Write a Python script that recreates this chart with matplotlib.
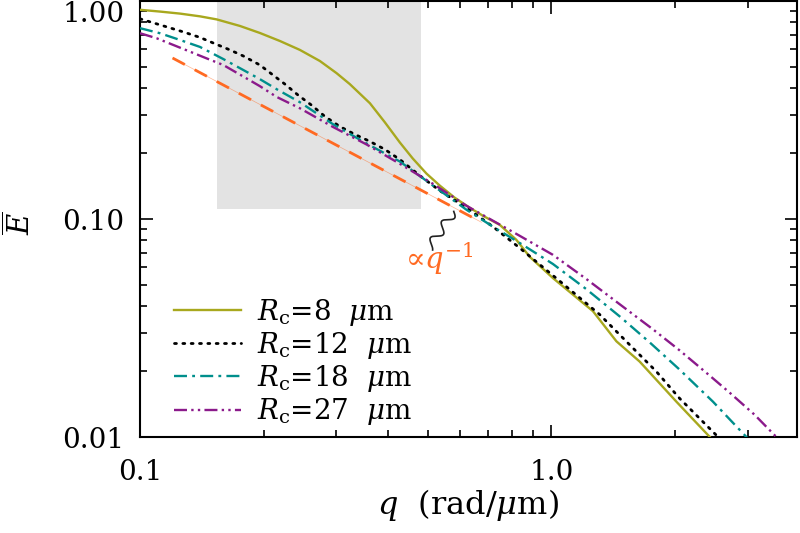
import numpy as np
import matplotlib
matplotlib.use("Agg")
import matplotlib.pyplot as plt
from matplotlib.patches import Rectangle

plt.rcParams['font.family'] = ['DejaVu Serif']
plt.rcParams['mathtext.fontset'] = 'dejavuserif'

# ---- data ----
q_r8 = [0.100, 0.1118, 0.1251, 0.1399, 0.1536, 0.1749, 0.1956, 0.2188, 0.2447, 0.2737,
        0.3005, 0.3236, 0.3621, 0.3937, 0.4281, 0.4603, 0.497, 0.5355, 0.5821, 0.6331,
        0.682, 0.749, 0.822, 0.886, 1.009, 1.262, 1.439, 1.639, 2.012, 2.447]
E_r8 = [0.912, 0.895, 0.876, 0.851, 0.824, 0.769, 0.714, 0.656, 0.597, 0.531,
        0.467, 0.416, 0.340, 0.278, 0.2247, 0.1896, 0.1617, 0.1424, 0.1253, 0.1127,
        0.1035, 0.0941, 0.0803, 0.0671, 0.0536, 0.0378, 0.0275, 0.0222, 0.01455, 0.00985]

q_r12 = [0.100, 0.1118, 0.1274, 0.1399, 0.1507, 0.1654, 0.1782, 0.1956, 0.2092, 0.2250,
         0.2424, 0.2612, 0.2813, 0.3059, 0.3328, 0.3621, 0.3937, 0.4281, 0.4787, 0.5355,
         0.6216, 0.7215, 0.8375, 1.047, 1.310, 1.550, 1.799, 2.049, 2.564]
E_r12 = [0.829, 0.778, 0.722, 0.681, 0.642, 0.597, 0.560, 0.509, 0.462, 0.416,
         0.370, 0.333, 0.296, 0.266, 0.2446, 0.2271, 0.2087, 0.1876, 0.1583, 0.1350,
         0.1127, 0.0922, 0.0737, 0.0520, 0.0365, 0.0265, 0.0200, 0.01506, 0.00985]

q_r18 = [0.100, 0.1118, 0.1251, 0.1399, 0.1594, 0.1782, 0.1956, 0.2148, 0.2447, 0.2948,
         0.3552, 0.4281, 0.5157, 0.6216, 0.7215, 0.8375, 1.009, 1.216, 1.465, 1.733,
         2.049, 2.470, 3.003]
E_r18 = [0.751, 0.712, 0.663, 0.616, 0.542, 0.483, 0.4384, 0.3944, 0.3436, 0.272,
         0.2223, 0.1837, 0.1424, 0.1104, 0.0922, 0.0777, 0.0622, 0.0477, 0.0358, 0.0272,
         0.0204, 0.01454, 0.00985]

q_r27 = [0.100, 0.1098, 0.1205, 0.1323, 0.1455, 0.1594, 0.1816, 0.1956, 0.2148, 0.2447,
         0.2948, 0.3552, 0.4281, 0.5157, 0.6216, 0.7215, 0.8375, 1.009, 1.216, 1.465,
         1.766, 2.049, 2.424, 2.711, 3.117, 3.552]
E_r27 = [0.712, 0.675, 0.629, 0.586, 0.545, 0.509, 0.4416, 0.4071, 0.3634, 0.3223,
         0.2643, 0.2200, 0.1793, 0.1450, 0.1151, 0.0982, 0.0838, 0.0685, 0.0531, 0.0407,
         0.0312, 0.0250, 0.01916, 0.0160, 0.01267, 0.00985]

q_pow = [0.120, 0.676]
E_pow = [0.548, 0.0967]

box_q = [0.1536, 0.483]
box_E = [0.111, 1.0]

labels = [r'$R_{\mathrm{c}}$=8  $\mu$m', r'$R_{\mathrm{c}}$=12  $\mu$m',
          r'$R_{\mathrm{c}}$=18  $\mu$m', r'$R_{\mathrm{c}}$=27  $\mu$m']

yticks = [0.01, 0.10, 1.00]
xticks = [0.1, 1.0]

# ---- figure ----
fig = plt.figure(figsize=(8, 5.33), dpi=100)
ax = fig.add_axes([0.175, 0.180, 0.821, 0.818])
ax.set_xscale('log')
ax.set_yscale('log')
ax.set_xlim(0.1, 3.95)
ax.set_ylim(0.01, 1.0)

ax.add_patch(Rectangle((box_q[0], box_E[0]), box_q[1] - box_q[0], box_E[1] - box_E[0],
                       facecolor='#e3e3e3', edgecolor='none', zorder=0))

lw = 1.7
c_olive = '#a8a81e'
c_teal = '#008f8c'
c_purple = '#8b1a8b'
c_orange = '#ff6a22'

ax.plot(q_pow, E_pow, color=c_orange, lw=0.5, alpha=0.5, zorder=1)
ax.plot(q_pow, E_pow, color=c_orange, lw=2.0, linestyle=(0, (5, 4)), zorder=1)

l1, = ax.plot(q_r8, E_r8, color=c_olive, lw=lw, zorder=3)
l2, = ax.plot(q_r12, E_r12, color='black', lw=2.0, linestyle=(0, (0.7, 2.3)),
              dash_capstyle='round', zorder=3)
l3, = ax.plot(q_r18, E_r18, color=c_teal, lw=lw, linestyle=(0, (5.5, 2.2, 1.2, 2.2)), zorder=3)
l4, = ax.plot(q_r27, E_r27, color=c_purple, lw=lw,
              linestyle=(0, (5.5, 1.8, 1.0, 1.8, 1.0, 1.8)), zorder=3)

# ticks
ax.set_xticks(xticks)
ax.set_xticklabels(['0.1', '1.0'])
ax.set_yticks(yticks)
ax.set_yticklabels(['0.01', '0.10', '1.00'])
ax.tick_params(which='both', direction='in', top=True, right=True, width=1.2,
               labelsize=20)
ax.tick_params(which='major', length=9)
ax.tick_params(which='minor', length=5)
ax.tick_params(axis='x', which='major', pad=16)
ax.tick_params(axis='y', which='major', pad=11)
ax.xaxis.set_minor_formatter(matplotlib.ticker.NullFormatter())
ax.yaxis.set_minor_formatter(matplotlib.ticker.NullFormatter())
for s in ax.spines.values():
    s.set_linewidth(1.5)
ylabs = ax.get_yticklabels()
ylabs[-1].set_va('top')

ax.set_xlabel(r'$q$  (rad/$\mu$m)', fontsize=23)
ax.xaxis.set_label_coords(0.50, -0.115)
ax.set_ylabel(r'$\overline{E}$', fontsize=21, va='center')
ax.yaxis.set_label_coords(-0.183, 0.49)

leg = ax.legend([l1, l2, l3, l4], labels, loc='upper left', bbox_to_anchor=(0.052, 0.322),
                frameon=False, fontsize=20, handlelength=2.4, handletextpad=0.6,
                labelspacing=0.08, borderpad=0, borderaxespad=0)

# annotation: proportional to q^-1 with a wavy connector
ann_q, ann_E = 0.5355, 0.0656
ax.annotate('\u221d' + r'$q^{-1}$', xy=(ann_q, ann_E), xytext=(0, 0),
            textcoords='offset pixels', color=c_orange, fontsize=21,
            ha='center', va='center')
p0 = ax.transData.transform((0.579, 0.1084))
p1 = ax.transData.transform((0.5044, 0.0740))
t = np.linspace(0, 1, 200)
d = p1 - p0
L = np.hypot(*d)
n = np.array([-d[1], d[0]]) / L
wave = 4.5 * np.sin(2 * np.pi * 2.2 * t)
pts = p0[None, :] + t[:, None] * d[None, :] + wave[:, None] * n[None, :]
dp = ax.transData.inverted().transform(pts)
ax.plot(dp[:, 0], dp[:, 1], color='#222222', lw=1.2, zorder=4)

fig.savefig('out.png', dpi=100)
